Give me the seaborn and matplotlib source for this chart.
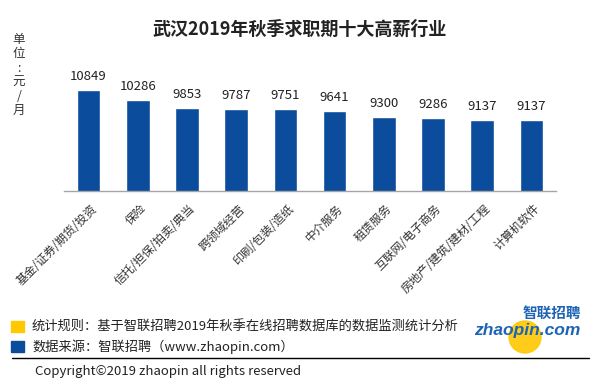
import matplotlib
matplotlib.use('Agg')
import matplotlib.pyplot as plt
import matplotlib.transforms as mtransforms
import seaborn as sns
import pandas as pd
from matplotlib.patches import Rectangle, Ellipse
from matplotlib.lines import Line2D

# dados
hangye = ['基金/证券/期货/投资', '保险', '信托/担保/拍卖/典当', '跨领域经营', '印刷/包装/造纸',
          '中介服务', '租赁服务', '互联网/电子商务', '房地产/建筑/建材/工程', '计算机软件']
xinchou = [10849, 10286, 9853, 9787, 9751, 9641, 9300, 9286, 9137, 9137]

titulo = '武汉2019年秋季求职期十大高薪行业'
danwei = '单\n位\n:\n元\n/\n月'
guize = '统计规则：基于智联招聘2019年秋季在线招聘数据库的数据监测统计分析'
laiyuan = '数据来源：智联招聘（www.zhaopin.com）'
banquan = 'Copyright©2019 zhaopin all rights reserved'

azul = '#0B4C9C'
amarelo = '#FFC800'

sns.set_style('white')
plt.rcParams['font.family'] = ['Noto Sans CJK SC', 'DejaVu Sans']

W, H = 600, 385
fig = plt.figure(figsize=(W / 100, H / 100), dpi=100)

def fx(px):
    return px / W

def fy(py):
    return 1 - py / H

# eixo: x de 64 a 556 px, y de 60 a 191 px
ax = fig.add_axes([fx(64), fy(191), fx(556) - fx(64), fy(60) - fy(191)])
df = pd.DataFrame({'hangye': hangye, 'xinchou': xinchou})
sns.barplot(data=df, x='hangye', y='xinchou', color=azul, width=0.48, saturation=1, ax=ax)
ax.set_xlim(-0.5, len(hangye) - 0.5)
ax.set_ylim(5200, 12500)

for s in ['top', 'right', 'left']:
    ax.spines[s].set_visible(False)
ax.spines['bottom'].set_color('#A6A6A6')
ax.spines['bottom'].set_linewidth(1)
ax.set_yticks([])
ax.set_xlabel('')
ax.set_ylabel('')

# marcas entre as categorias
ax.set_xticks([i - 0.5 for i in range(len(hangye) + 1)], minor=True)
ax.tick_params(axis='x', which='minor', length=4, color='#A6A6A6', width=1)
ax.tick_params(axis='x', which='major', length=0, pad=4)
ax.set_xticks(range(len(hangye)))
ax.set_xticklabels(hangye, rotation=45, ha='right', va='center', rotation_mode='anchor',
                   fontsize=8.5, color='#333333')
desloc = mtransforms.ScaledTranslation(0.06, -0.10, fig.dpi_scale_trans)
for lbl in ax.get_xticklabels():
    lbl.set_transform(lbl.get_transform() + desloc)

ax.bar_label(ax.containers[0], labels=[str(v) for v in xinchou], padding=5,
             fontsize=9.5, color='#222222')

fig.text(0.5, fy(29), titulo, ha='center', va='center', fontsize=13, fontweight='bold',
         color='#222222')
fig.text(fx(19), fy(75), danwei, ha='center', va='center', fontsize=9, linespacing=1.1,
         color='#333333')

# rodapé
fig.add_artist(Rectangle((fx(11), fy(332)), fx(13), 11 / H, color=amarelo,
                         transform=fig.transFigure))
fig.add_artist(Rectangle((fx(11), fy(352)), fx(13), 11 / H, color=azul,
                         transform=fig.transFigure))
fig.text(fx(32), fy(327), guize, ha='left', va='center', fontsize=9.5, color='#222222')
fig.text(fx(32), fy(347), laiyuan, ha='left', va='center', fontsize=9.5, color='#222222')
fig.add_artist(Line2D([fx(12), fx(589)], [fy(357.5), fy(357.5)], color='black', lw=1,
                      transform=fig.transFigure))
fig.text(fx(35), fy(371), banquan, ha='left', va='center', fontsize=9.5, color='#222222')

# logo aproximado
fig.add_artist(Ellipse((fx(525), fy(337)), 32 / W, 32 / H, color=amarelo, alpha=0.9,
                       transform=fig.transFigure))
fig.text(fx(552), fy(313), '智联招聘', ha='center', va='center', fontsize=10.5,
         fontweight='bold', style='italic', color='#1E64B4')
fig.text(fx(527), fy(330), 'zhaopin.com', ha='center', va='center', fontsize=12.5,
         fontweight='bold', style='italic', family='Liberation Sans', color='#1E64B4')

fig.savefig('out.png', dpi=100)
